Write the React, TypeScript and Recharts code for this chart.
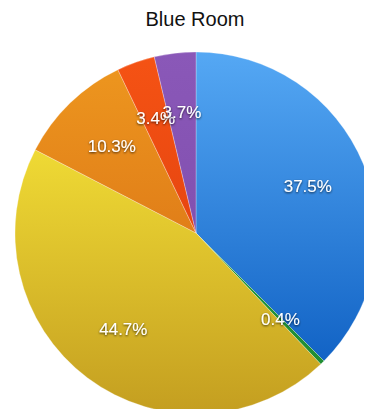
import { Cell, Pie, PieChart } from "recharts";

const rooms = ["Blue", "Green", "Yellow", "Orange", "Red", "Purple"];
const shares = [37.5, 0.4, 44.7, 10.3, 3.4, 3.7];

// top / bottom shade for each slice
const topColors = ["#55a8f4", "#2fa443", "#fff03c", "#ee981f", "#f55314", "#8a58b8"];
const bottomColors = ["#0657bd", "#1e8a30", "#c49e20", "#d36412", "#d8380c", "#7a48a8"];

const data = rooms.map((name, i) => ({ name, value: shares[i] }));

const RADIAN = Math.PI / 180;

function renderLabel(props: any) {
  const { cx, cy, midAngle, value } = props;
  const r = 121;
  const x = cx + r * Math.cos(-midAngle * RADIAN);
  const y = cy + r * Math.sin(-midAngle * RADIAN);
  return (
    <text
      x={x}
      y={y}
      fill="#fff"
      textAnchor="middle"
      dominantBaseline="central"
      fontSize={17}
      fontFamily="'Liberation Sans', Arial, sans-serif"
      filter="url(#labelShadow)"
    >
      {value.toFixed(1)}%
    </text>
  );
}

export default function App() {
  return (
    <div style={{ position: "relative", width: 372, height: 417, margin: -8, background: "#fff" }}>
      <div
        style={{
          position: "absolute",
          top: 8,
          left: 0,
          width: 390,
          textAlign: "center",
          fontFamily: "'Liberation Sans', Arial, sans-serif",
          fontSize: 20,
          color: "#111",
        }}
      >
        Blue Room
      </div>
      <PieChart width={372} height={417} margin={{ top: 0, right: 0, bottom: 0, left: 0 }}>
        <defs>
          {rooms.map((name, i) => (
            <linearGradient
              key={name}
              id={`grad-${i}`}
              gradientUnits="userSpaceOnUse"
              x1={0}
              y1={52}
              x2={0}
              y2={414}
            >
              <stop offset="0%" stopColor={topColors[i]} />
              <stop offset="100%" stopColor={bottomColors[i]} />
            </linearGradient>
          ))}
          <filter id="labelShadow" x="-20%" y="-40%" width="140%" height="180%">
            <feDropShadow dx={0} dy={1} stdDeviation={0.8} floodColor="#000" floodOpacity={0.75} />
          </filter>
        </defs>
        <Pie
          data={data}
          dataKey="value"
          nameKey="name"
          cx={196}
          cy={233}
          outerRadius={181}
          startAngle={90}
          endAngle={-270}
          stroke="rgba(255,255,255,0.45)"
          strokeWidth={0.6}
          label={renderLabel}
          labelLine={false}
          isAnimationActive={false}
        >
          {data.map((d, i) => (
            <Cell key={d.name} fill={`url(#grad-${i})`} />
          ))}
        </Pie>
      </PieChart>
    </div>
  );
}
